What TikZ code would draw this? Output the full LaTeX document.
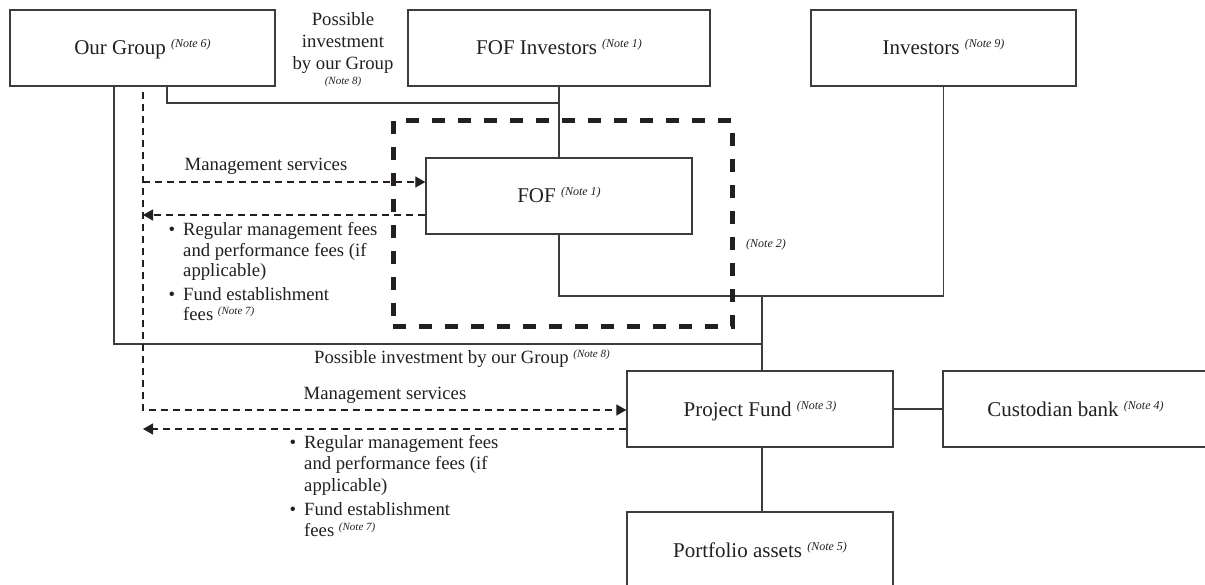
\documentclass[tikz,border=0pt]{standalone}
\usepackage{fontspec}
\setmainfont{Liberation Serif}
\usetikzlibrary{arrows.meta}
\definecolor{ink}{HTML}{231F20}
\definecolor{ln}{HTML}{403B3B}
\newcommand\lblf{\fontsize{18.7}{22}\selectfont}
\newcommand\boxf{\fontsize{21}{24}\selectfont}
\newcommand\bnote[1]{\raisebox{7pt}{\fontsize{12}{12}\selectfont\itshape (Note #1)}}
\newcommand\lnote[1]{\raisebox{6pt}{\fontsize{11}{11}\selectfont\itshape (Note #1)}}
\begin{document}
\begin{tikzpicture}[x=1pt,y=-1pt,
  entity/.style={draw=ln, line width=1.3pt, text=ink, font=\boxf, inner sep=0pt,
                 text height=14pt, text depth=0pt, minimum height=76pt},
  link/.style={draw=ln, line width=1.3pt},
  flow/.style={draw=ink, line width=1.2pt, dash pattern=on 7pt off 5pt},
  arr/.style={-{Triangle[length=10pt,width=11pt]}},
  lbl/.style={text=ink, font=\lblf, inner sep=0pt},
  smallnote/.style={text=ink, font=\fontsize{11}{11}\selectfont\itshape, inner sep=0pt},
  groupbox/.style={draw=ink, line width=5pt, dash pattern=on 13pt off 13pt, inner sep=0pt}]

\useasboundingbox (0,0) rectangle (1205,585);
\clip (0,0) rectangle (1205,585);

% entities
\node[entity, minimum width=265pt] (og)   at (142.5,48) {Our Group \bnote{6}};
\node[entity, minimum width=302pt] (fofi) at (559,48)   {FOF Investors \bnote{1}};
\node[entity, minimum width=265pt] (inv)  at (943.5,48) {Investors \bnote{9}};
\node[entity, minimum width=266pt] (fof)  at (559,196)  {FOF \bnote{1}};
\node[entity, minimum width=266pt] (pf)   at (760,409)  {Project Fund \bnote{3}};
\node[entity, minimum width=265pt] (cb)   at (1075.5,409) {Custodian bank \bnote{4}};
\node[entity, minimum width=266pt] (pa)   at (760,550)  {Portfolio assets \bnote{5}};

% helper coordinates
\coordinate (xd) at (143,0);
\coordinate (xs) at (114,0);
\coordinate (xo) at (167,0);
\coordinate (xj) at (762,0);
\coordinate (ya) at (0,103);
\coordinate (yb) at (0,296);
\coordinate (yc) at (0,344);
\coordinate (m1) at (0,182);
\coordinate (f1) at (0,215);
\coordinate (m2) at (0,410);
\coordinate (f2) at (0,429);

% solid connectors
\draw[link] (fofi.south) -- (fof.north);
\draw[link] (og.south -| xo) |- (fof.north |- ya);
\draw[link] (fof.south) |- (inv.south |- yb) -- (inv.south);
\draw[link] (xj |- yb) -- (pf.north -| xj);
\draw[link] (og.south -| xs) |- (xj |- yc);
\draw[link] (pf.east) -- (cb.west);
\draw[link] (pf.south -| xj) -- (pa.north -| xj);

% dashed flows
\draw[flow, arr, dash phase=7pt] (og.south -| xd) -- (xd |- m2) -- (pf.west |- m2);
\draw[flow, arr] (xd |- m1) -- (fof.west |- m1);
\draw[flow, arr] (fof.west |- f1) -- (xd |- f1);
\draw[flow, arr] (pf.west |- f2) -- (xd |- f2);

% FOF group box
\node[groupbox, minimum width=339pt, minimum height=206pt] (fofgrp) at (562.5,224) {};

% labels
\node[lbl, anchor=base] (pi1) at (343,26) {Possible};
\node[lbl, anchor=base] (pi2) at (343,48) {investment};
\node[lbl, anchor=base] (pi3) at (343,70) {by our Group};
\node[smallnote, anchor=base] (pi4) at (343,85) {(Note 8)};

\node[lbl, anchor=base] (ms1) at (266,171) {Management services};
\node[lbl, anchor=base] (b1a) at (172,236) {\textbullet};
\node[lbl, anchor=base west] (t1a) at (183,236) {Regular management fees};
\node[lbl, anchor=base west] (t1b) at (183,257) {and performance fees (if};
\node[lbl, anchor=base west] (t1c) at (183,277) {applicable)};
\node[lbl, anchor=base] (b1b) at (172,301) {\textbullet};
\node[lbl, anchor=base west] (t1d) at (183,301) {Fund establishment};
\node[lbl, anchor=base west] (t1e) at (183,321) {fees \lnote{7}};

\node[text=ink, font=\fontsize{12}{12}\selectfont\itshape, inner sep=0pt, anchor=base west] (n2) at (746,248) {(Note 2)};

\node[lbl, anchor=base west] (pib) at (314,363) {Possible investment by our Group \lnote{8}};
\node[lbl, anchor=base] (ms2) at (385,399) {Management services};
\node[lbl, anchor=base] (b2a) at (293,448) {\textbullet};
\node[lbl, anchor=base west] (t2a) at (304,448) {Regular management fees};
\node[lbl, anchor=base west] (t2b) at (304,469.5) {and performance fees (if};
\node[lbl, anchor=base west] (t2c) at (304,491) {applicable)};
\node[lbl, anchor=base] (b2b) at (293,515) {\textbullet};
\node[lbl, anchor=base west] (t2d) at (304,515) {Fund establishment};
\node[lbl, anchor=base west] (t2e) at (304,536) {fees \lnote{7}};
\end{tikzpicture}
\end{document}
